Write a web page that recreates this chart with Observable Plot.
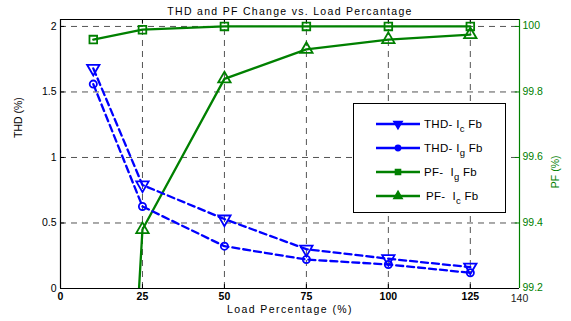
<!DOCTYPE html>
<html><head><meta charset="utf-8">
<script src="https://cdn.jsdelivr.net/npm/d3@7"></script>
<script src="https://cdn.jsdelivr.net/npm/@observablehq/plot@0.6"></script>
<style>
html,body{margin:0;padding:0;background:#fff;}
#chart svg{display:block;}
</style></head><body><div id="chart"></div>
<script>
// ---- data ----
const load = [10, 25, 50, 75, 100, 125];
const thdIc = [1.68, 0.79, 0.53, 0.30, 0.227, 0.163];
const thdIg = [1.56, 0.626, 0.323, 0.221, 0.183, 0.12];
const pfIg = [99.96, 99.99, 100, 100, 100, 100];
const pfIc = [96.8, 99.38, 99.84, 99.93, 99.96, 99.975];
const xTicks = [0, 25, 50, 75, 100, 125];
const xEnd = 140;
const thdTicks = [0, 0.5, 1, 1.5, 2];
const pfTicks = [99.2, 99.4, 99.6, 99.8, 100];
const titleText = "THD and PF Change vs. Load Percantage";
const xLabel = "Load Percentage (%)";
const yLabel = "THD (%)";
const y2Label = "PF (%)";
const legendItems = [
  {pre: "THD- I", sub: "c", post: " Fb"},
  {pre: "THD- I", sub: "g", post: " Fb"},
  {pre: "PF-  I", sub: "g", post: " Fb"},
  {pre: "PF-  I", sub: "c", post: " Fb"}
];

// ---- helpers ----
const BLUE = "#0000ff", GREEN = "#008000";
const FONT = "'Liberation Sans', Arial, Helvetica, sans-serif";
const pfMin = 99.2, pfMax = 100, thdMax = 2;
const toLeft = v => (v - pfMin) / (pfMax - pfMin) * thdMax;
const yTop = 2.053;

const rows = (ys, f = d => d) => load.map((x, i) => ({x, y: f(ys[i])}));
const dThdIc = rows(thdIc), dThdIg = rows(thdIg);
const dPfIg = rows(pfIg, toLeft), dPfIc = rows(pfIc, toLeft);

const grid = {stroke: "#000", strokeWidth: 0.8, strokeDasharray: "6,5", strokeOpacity: 0.85};

const plot = Plot.plot({
  width: 571, height: 321,
  marginLeft: 60, marginRight: 52, marginTop: 19, marginBottom: 33,
  x: {domain: [0, xEnd], axis: null},
  y: {domain: [0, yTop], axis: null},
  style: {fontFamily: FONT, fontSize: "10px", background: "white", overflow: "visible"},
  marks: [
    Plot.ruleX(xTicks.slice(1), {y1: 0, y2: yTop, ...grid}),
    Plot.ruleY(thdTicks.slice(1), {x1: 0, x2: xEnd, ...grid}),
    // inward ticks
    Plot.ruleY(thdTicks, {x1: 0, x2: 1.3, stroke: "#000"}),
    Plot.ruleY(pfTicks.map(toLeft), {x1: xEnd - 1.3, x2: xEnd, stroke: GREEN}),
    Plot.ruleX(xTicks, {y1: 0, y2: 0.03, stroke: "#000"}),
    Plot.ruleX(xTicks, {y1: yTop - 0.03, y2: yTop, stroke: "#000"}),
    // series
    Plot.line(dPfIg, {x: "x", y: "y", stroke: GREEN, strokeWidth: 2.3}),
    Plot.dot(dPfIg, {x: "x", y: "y", symbol: "square", r: 4.3, stroke: GREEN, strokeWidth: 1.8, fill: "none"}),
    Plot.line(dPfIc, {x: "x", y: "y", stroke: GREEN, strokeWidth: 2.3, clip: true}),
    Plot.dot(dPfIc, {x: "x", y: "y", symbol: "triangle", r: 4.6, stroke: GREEN, strokeWidth: 1.8, fill: "none", clip: true}),
    Plot.line(dThdIc, {x: "x", y: "y", stroke: BLUE, strokeWidth: 2.3, strokeDasharray: "7,4"}),
    Plot.dot(dThdIc, {x: "x", y: "y", symbol: "triangle", rotate: 180, r: 4.6, stroke: BLUE, strokeWidth: 1.8, fill: "none"}),
    Plot.line(dThdIg, {x: "x", y: "y", stroke: BLUE, strokeWidth: 2.3, strokeDasharray: "7,4"}),
    Plot.dot(dThdIg, {x: "x", y: "y", symbol: "circle", r: 3.6, stroke: BLUE, strokeWidth: 1.8, fill: "none"}),
    // frame
    Plot.ruleX([0], {y1: 0, y2: yTop, stroke: "#000", strokeWidth: 1.2}),
    Plot.ruleY([0, yTop], {x1: 0, x2: xEnd, stroke: "#000", strokeWidth: 1.2}),
    Plot.ruleX([xEnd], {y1: 0, y2: yTop, stroke: GREEN, strokeWidth: 1.2}),
    // tick labels
    Plot.text(thdTicks, {x: 0, y: d => d, text: d => String(d), textAnchor: "end", dx: -4, fill: "#000", fontSize: 10.5}),
    Plot.text(pfTicks, {x: xEnd, y: d => toLeft(d), text: d => String(d), textAnchor: "start", dx: 3, dy: -0.5, fill: GREEN, fontSize: 10.5}),
    Plot.text(xTicks, {x: d => d, y: 0, text: d => String(d), lineAnchor: "top", dy: 4, fontWeight: "bold", fill: "#000", fontSize: 10.5}),
    Plot.text([xEnd], {x: d => d, y: 0, text: d => String(d), lineAnchor: "top", dy: 6, fill: "#222", fontSize: 10.5}),
    // titles
    Plot.text([titleText], {frameAnchor: "top", dy: -11.5, fill: "#000", fontSize: 10.5}),
    Plot.text([xLabel], {frameAnchor: "bottom", dy: 24, fill: "#000", fontSize: 10.5}),
    Plot.text([yLabel], {frameAnchor: "left", dx: -42, dy: -16, rotate: -90, fill: "#000", fontSize: 10.5}),
    Plot.text([y2Label], {frameAnchor: "right", dx: 36, dy: 1.5, rotate: -90, fill: GREEN, fontSize: 10.5})
  ]
});

const svg = d3.select(plot);
svg.selectAll("text").filter(function () { return this.textContent === titleText; }).attr("letter-spacing", "1.3px");
svg.selectAll("text").filter(function () { return this.textContent === xLabel; }).attr("letter-spacing", "1.4px");

// ---- legend ----
const lg = svg.append("g").attr("font-family", FONT).attr("font-size", 11.5).attr("text-anchor", "start");
lg.append("rect").attr("x", 353.5).attr("y", 103.5).attr("width", 152).attr("height", 109)
  .attr("fill", "#fff").attr("stroke", "#000").attr("stroke-width", 1);
const legendStyle = [
  {color: BLUE, sym: d3.symbolTriangle, rot: 180, size: 30},
  {color: BLUE, sym: d3.symbolCircle, rot: 0, size: 22},
  {color: GREEN, sym: d3.symbolSquare, rot: 0, size: 26},
  {color: GREEN, sym: d3.symbolTriangle, rot: 0, size: 30}
];
const rowY = [124, 148, 172, 196];
const textX = [424, 424, 424, 426];
legendItems.forEach((it, i) => {
  const s = legendStyle[i], y = rowY[i];
  lg.append("line").attr("x1", 376).attr("x2", 420).attr("y1", y).attr("y2", y)
    .attr("stroke", s.color).attr("stroke-width", 2.3);
  lg.append("path").attr("d", d3.symbol(s.sym, s.size)())
    .attr("transform", `translate(398,${y}) rotate(${s.rot})`)
    .attr("fill", s.color).attr("stroke", s.color).attr("stroke-width", 1.5);
  const t = lg.append("text").attr("x", textX[i]).attr("y", y + 4).attr("fill", "#000")
    .attr("text-anchor", "start").style("white-space", "pre").attr("letter-spacing", "0.3px");
  t.append("tspan").text(it.pre);
  t.append("tspan").attr("dy", 4).attr("font-size", 9.5).text(it.sub);
  t.append("tspan").attr("dy", -4).text(it.post);
});

document.getElementById("chart").appendChild(plot);
</script></body></html>
